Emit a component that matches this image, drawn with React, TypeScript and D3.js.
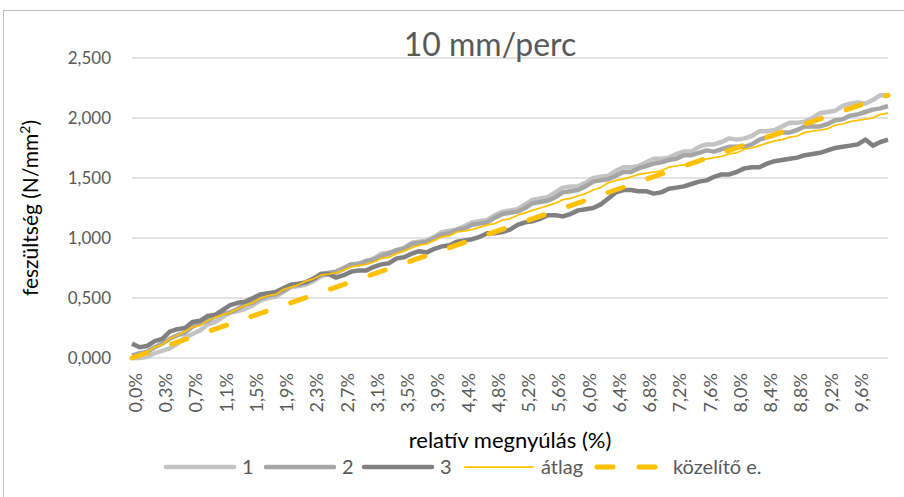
import React from 'react';
import * as d3 from 'd3';

// category tick labels (relative elongation)
const xTickLabels = ['0,0%', '0,3%', '0,7%', '1,1%', '1,5%', '1,9%', '2,3%', '2,7%', '3,1%', '3,5%', '3,9%', '4,4%', '4,8%', '5,2%', '5,6%', '6,0%', '6,4%', '6,8%', '7,2%', '7,6%', '8,0%', '8,4%', '8,8%', '9,2%', '9,6%'];
const yTicks = [0, 0.5, 1.0, 1.5, 2.0, 2.5];

// samples every quarter label step
const STEP = 0.25;
const series1 = [0.00, 0.00, 0.01, 0.04, 0.06, 0.08, 0.12, 0.17, 0.20, 0.23,
  0.28, 0.30, 0.34, 0.38, 0.39, 0.41, 0.44, 0.48, 0.50, 0.51,
  0.55, 0.59, 0.60, 0.61, 0.64, 0.68, 0.70, 0.71, 0.74, 0.78,
  0.79, 0.80, 0.83, 0.87, 0.88, 0.89, 0.92, 0.96, 0.97, 0.98,
  1.01, 1.05, 1.06, 1.07, 1.10, 1.13, 1.14, 1.15, 1.19, 1.22,
  1.23, 1.24, 1.28, 1.32, 1.33, 1.34, 1.38, 1.42, 1.43, 1.43,
  1.46, 1.50, 1.51, 1.52, 1.56, 1.59, 1.59, 1.60, 1.63, 1.66,
  1.66, 1.67, 1.70, 1.72, 1.72, 1.76, 1.78, 1.78, 1.80, 1.83,
  1.82, 1.83, 1.85, 1.89, 1.89, 1.90, 1.93, 1.96, 1.96, 1.97,
  2.00, 2.04, 2.05, 2.06, 2.10, 2.12, 2.13, 2.12, 2.15, 2.19,
  2.19];
const series2 = [0.02, 0.04, 0.05, 0.09, 0.12, 0.16, 0.19, 0.21, 0.26, 0.29,
  0.31, 0.35, 0.37, 0.38, 0.41, 0.45, 0.46, 0.50, 0.52, 0.53,
  0.56, 0.60, 0.61, 0.63, 0.66, 0.70, 0.71, 0.72, 0.75, 0.78,
  0.78, 0.81, 0.82, 0.85, 0.87, 0.90, 0.91, 0.95, 0.96, 0.97,
  1.00, 1.03, 1.04, 1.07, 1.08, 1.11, 1.12, 1.13, 1.17, 1.20,
  1.21, 1.22, 1.25, 1.29, 1.30, 1.31, 1.34, 1.38, 1.39, 1.40,
  1.43, 1.47, 1.48, 1.49, 1.52, 1.55, 1.55, 1.58, 1.60, 1.62,
  1.63, 1.65, 1.66, 1.69, 1.69, 1.71, 1.73, 1.72, 1.74, 1.76,
  1.76, 1.76, 1.78, 1.82, 1.84, 1.86, 1.88, 1.88, 1.90, 1.93,
  1.93, 1.93, 1.95, 1.98, 1.99, 2.02, 2.03, 2.05, 2.07, 2.08,
  2.10];
const series3 = [0.12, 0.09, 0.10, 0.14, 0.16, 0.22, 0.24, 0.25, 0.30, 0.31,
  0.35, 0.36, 0.40, 0.44, 0.46, 0.47, 0.50, 0.53, 0.54, 0.55,
  0.58, 0.61, 0.62, 0.63, 0.66, 0.70, 0.70, 0.67, 0.69, 0.72,
  0.73, 0.73, 0.76, 0.78, 0.79, 0.83, 0.84, 0.87, 0.89, 0.88,
  0.91, 0.93, 0.94, 0.97, 0.98, 0.99, 1.01, 1.04, 1.04, 1.05,
  1.07, 1.11, 1.13, 1.14, 1.16, 1.19, 1.19, 1.18, 1.20, 1.23,
  1.24, 1.25, 1.28, 1.33, 1.38, 1.40, 1.40, 1.39, 1.39, 1.37,
  1.38, 1.41, 1.42, 1.43, 1.45, 1.47, 1.48, 1.51, 1.53, 1.53,
  1.55, 1.58, 1.59, 1.59, 1.62, 1.64, 1.65, 1.66, 1.67, 1.69,
  1.70, 1.71, 1.73, 1.75, 1.76, 1.77, 1.78, 1.82, 1.77, 1.80,
  1.82];
const average = [0.01, 0.02, 0.05, 0.09, 0.11, 0.16, 0.19, 0.22, 0.26, 0.27,
  0.31, 0.34, 0.36, 0.38, 0.41, 0.44, 0.46, 0.50, 0.52, 0.53,
  0.57, 0.59, 0.61, 0.64, 0.66, 0.69, 0.70, 0.71, 0.73, 0.76,
  0.77, 0.78, 0.80, 0.83, 0.84, 0.87, 0.89, 0.92, 0.94, 0.95,
  0.98, 1.01, 1.02, 1.05, 1.06, 1.07, 1.09, 1.11, 1.12, 1.15,
  1.16, 1.19, 1.21, 1.23, 1.25, 1.27, 1.29, 1.32, 1.33, 1.35,
  1.37, 1.40, 1.42, 1.46, 1.48, 1.49, 1.51, 1.53, 1.54, 1.55,
  1.56, 1.59, 1.60, 1.61, 1.62, 1.65, 1.66, 1.67, 1.68, 1.70,
  1.71, 1.74, 1.75, 1.77, 1.79, 1.81, 1.82, 1.84, 1.85, 1.88,
  1.89, 1.90, 1.91, 1.94, 1.95, 1.97, 1.98, 1.99, 2.00, 2.03,
  2.04];
const trendX = [0, 25];
const trendY = [0.0, 2.19];

const legendNames = ['1', '2', '3', 'átlag', 'közelítő e.'];

const FONT = "Lato, 'Open Sans', sans-serif";

export default function App() {
  const W = 904, H = 497;
  const x = d3.scaleLinear().domain([0, 25]).range([132, 888]);
  const y = d3.scaleLinear().domain([0, 2.5]).range([358, 58]);
  const line = d3.line<number>().x((_, i) => x(i * STEP)).y(d => y(d));
  const trendLine = d3.line<number>().x((_, i) => x(trendX[i])).y(d => y(d));

  const styles = [
    { stroke: '#c3c3c3', width: 4.5 },
    { stroke: '#a5a5a5', width: 4.5 },
    { stroke: '#808080', width: 4.5 },
    { stroke: '#ffc000', width: 1.75 },
    { stroke: '#ffc000', width: 5 },
  ];
  const data = [series1, series2, series3, average];
  const legendX = [166, 266, 364, 465, 597];

  return (
    <svg width={W} height={H} style={{ position: 'absolute', left: 0, top: 0, background: '#fff' }} fontFamily={FONT}>
      <rect x={3.5} y={10.5} width={W + 10} height={H + 10} fill="#fff" stroke="#bfbfbf" strokeWidth={1} />
      {yTicks.map(t => (
        <g key={t}>
          <line x1={x(0)} x2={x(25)} y1={y(t)} y2={y(t)} stroke="#d9d9d9" strokeWidth={1.5} />
          <text x={111} y={y(t)} dy="0.35em" textAnchor="end" fontSize={17} fill="#595959">
            {t.toFixed(3).replace('.', ',')}
          </text>
        </g>
      ))}
      {xTickLabels.map((lab, i) => (
        <text key={lab} transform={`translate(${x(i) + 10},373) rotate(-90)`} textAnchor="end" fontSize={18} fill="#595959">
          {lab}
        </text>
      ))}
      {data.map((d, i) => (
        <path key={i} d={line(d) || ''} fill="none" stroke={styles[i].stroke} strokeWidth={styles[i].width} strokeLinejoin="round" />
      ))}
      <path d={trendLine(trendY) || ''} fill="none" stroke="#ffc000" strokeWidth={5} strokeDasharray="16 26" strokeLinecap="round" />
      <text x={490} y={56} textAnchor="middle" fontSize={32} fill="#595959">10 mm/perc</text>
      <text transform={`translate(38,${(y(0) + y(2.5)) / 2}) rotate(-90)`} textAnchor="middle" fontSize={21} fill="#000">
        feszültség (N/mm<tspan dy="-8" fontSize={14}>2</tspan><tspan dy="8">)</tspan>
      </text>
      <text x={(x(0) + x(25)) / 2} y={448} textAnchor="middle" fontSize={22} fill="#000">relatív megnyúlás (%)</text>
      {legendNames.map((name, i) => (
        <g key={name}>
          <line x1={legendX[i]} x2={legendX[i] + 68} y1={467} y2={467} stroke={styles[i].stroke}
            strokeWidth={i === 3 ? 1.75 : i === 4 ? 5 : 4.5} strokeDasharray={i === 4 ? '16 26' : undefined}
            strokeLinecap="round" />
          <text x={legendX[i] + 76} y={467} dy="0.35em" fontSize={20} fill="#595959">{name}</text>
        </g>
      ))}
    </svg>
  );
}
